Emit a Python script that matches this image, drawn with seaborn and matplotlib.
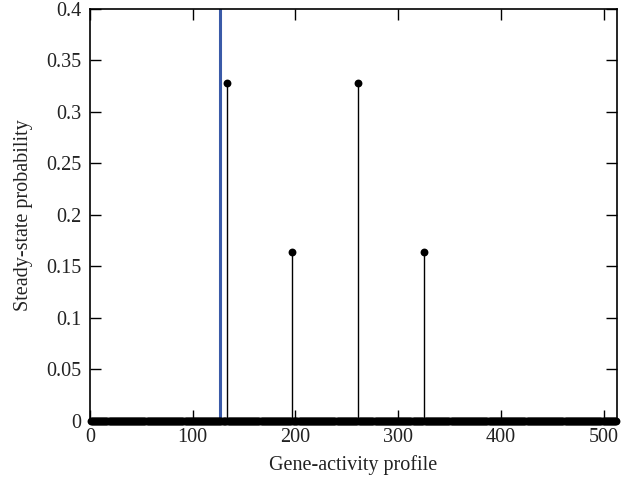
import matplotlib
matplotlib.use("Agg")
import matplotlib.pyplot as plt
import numpy as np
import pandas as pd
import seaborn as sns

# Data
n_states = 512
peak_states = [133, 197, 261, 325]
peak_probs = [0.328, 0.164, 0.328, 0.164]
marker_state = 127
x_ticks = [0, 100, 200, 300, 400, 500]
y_ticks = [0, 0.05, 0.1, 0.15, 0.2, 0.25, 0.3, 0.35, 0.4]
y_tick_labels = ["0", "0.05", "0.1", "0.15", "0.2", "0.25", "0.3", "0.35", "0.4"]

states = np.arange(1, n_states + 1)
probs = np.zeros(n_states)
for s, p in zip(peak_states, peak_probs):
    probs[s - 1] = p
df = pd.DataFrame({"state": states, "prob": probs})

sns.set_style("ticks")
plt.rcParams['font.family'] = ['Liberation Serif', 'DejaVu Serif']

fig = plt.figure(figsize=(6.34, 4.9), dpi=100)
ax = fig.add_axes([0.142, 0.141, 0.831, 0.841])

ax.axvline(marker_state, color="#3a5aa8", lw=2.2, zorder=1)
ax.vlines(df["state"], 0, df["prob"], color="black", lw=1.0, zorder=2)
sns.scatterplot(data=df, x="state", y="prob", ax=ax, color="black",
                s=32, edgecolor="black", linewidth=0, zorder=3, clip_on=False)

ax.set_xlim(0, 513)
ax.set_ylim(0, 0.4)
ax.set_xticks(x_ticks)
ax.set_yticks(y_ticks)
ax.set_yticklabels(y_tick_labels)
ax.tick_params(axis="both", which="both", top=True, right=True, direction="in",
               length=8, width=1, labelsize=14.5, colors="black", labelcolor="#222222")
ax.tick_params(axis="x", pad=5)
ax.tick_params(axis="y", pad=6)
for sp in ax.spines.values():
    sp.set_visible(True)
    sp.set_color("black")
    sp.set_linewidth(1.2)

ax.set_xlabel("Gene-activity profile", fontsize=14.5, labelpad=6, color="#222222")
ax.set_ylabel("Steady-state probability", fontsize=14.5, labelpad=10, color="#222222")

fig.savefig("out.png", dpi=100)
